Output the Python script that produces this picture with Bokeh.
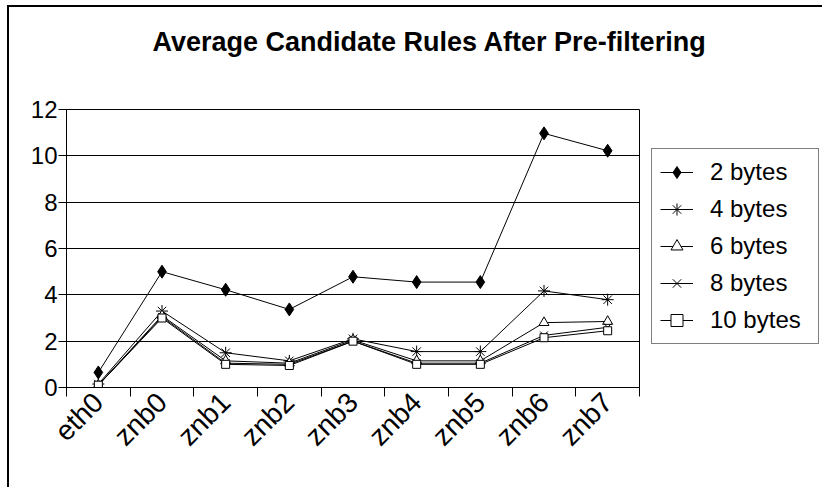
import numpy as np
from bokeh.plotting import figure
from bokeh.models import Range1d, FixedTicker, Legend
from bokeh.embed import file_html
from bokeh.resources import INLINE

# Interfaces on the x axis
categories = ["eth0", "znb0", "znb1", "znb2", "znb3", "znb4", "znb5", "znb6", "znb7"]

# Average number of candidate rules per prefilter width
bytes2 = [0.65, 5.0, 4.22, 3.37, 4.78, 4.55, 4.55, 10.97, 10.22]
bytes4 = [0.15, 3.3, 1.5, 1.15, 2.1, 1.55, 1.55, 4.17, 3.79]
bytes6 = [0.1, 3.1, 1.15, 1.05, 2.05, 1.15, 1.15, 2.8, 2.85]
bytes8 = [0.1, 3.05, 1.05, 1.0, 2.0, 1.05, 1.05, 2.25, 2.6]
bytes10 = [0.1, 3.0, 1.0, 0.95, 2.0, 1.0, 1.0, 2.15, 2.45]

y_ticks = [0, 2, 4, 6, 8, 10, 12]

FONT = "Liberation Sans"

# categories sit in the middle of unit-wide slots, tick marks on the slot edges
xs = np.arange(len(categories)) + 0.5

p = figure(
    frame_width=573, frame_height=278,
    min_border_left=57, min_border_right=183,
    min_border_top=102, min_border_bottom=100,
    x_range=Range1d(0, len(categories)), y_range=Range1d(0, 12),
    output_backend="svg", toolbar_location=None,
    title="Average Candidate Rules After Pre-filtering",
)
p.margin = (5, 0, 0, 7)
p.styles = {"border-left": "2px solid #000", "border-top": "2px solid #000"}

p.title.text_font = FONT
p.title.text_font_size = "27px"
p.title.text_font_style = "bold"
p.title.text_color = "black"
p.title.align = "left"
p.title.vertical_align = "top"
p.title.offset = 86
p.title.standoff = 0
p.title.padding = dict(left=0, right=0, top=0, bottom=51)

p.outline_line_color = "black"
p.outline_line_width = 1
p.background_fill_color = "white"
p.border_fill_color = "white"

# y axis
p.yaxis.ticker = FixedTicker(ticks=y_ticks)
p.yaxis.major_label_text_font = FONT
p.yaxis.major_label_text_font_size = "24px"
p.yaxis.major_label_text_color = "black"
p.yaxis.major_label_standoff = 1
p.yaxis.major_tick_out = 8
p.yaxis.major_tick_in = 0
p.yaxis.minor_tick_line_color = None
p.yaxis.axis_line_color = "black"
p.yaxis.major_tick_line_color = "black"

# x axis: labels at slot centres, tick marks at slot boundaries
p.xaxis.ticker = FixedTicker(ticks=list(xs), minor_ticks=list(range(len(categories) + 1)))
p.xaxis.major_label_overrides = {float(x): c for x, c in zip(xs, categories)}
p.xaxis.major_label_orientation = np.pi / 4
p.xaxis.major_label_text_font = FONT
p.xaxis.major_label_text_font_size = "28px"
p.xaxis.major_label_text_color = "black"
p.xaxis.major_label_standoff = 1
p.xaxis.major_tick_out = 0
p.xaxis.major_tick_in = 0
p.xaxis.minor_tick_out = 9
p.xaxis.minor_tick_in = 0
p.xaxis.minor_tick_line_color = "black"
p.xaxis.axis_line_color = "black"

p.xgrid.grid_line_color = None
p.ygrid.grid_line_color = "black"
p.ygrid.grid_line_width = 1

series = [
    ("2 bytes", bytes2, dict(marker="diamond", size=13, fill_color="black")),
    ("4 bytes", bytes4, dict(marker="asterisk", size=12, fill_color="white")),
    ("6 bytes", bytes6, dict(marker="triangle", size=10, fill_color="white")),
    ("8 bytes", bytes8, dict(marker="x", size=11, fill_color="white")),
    ("10 bytes", bytes10, dict(marker="square", size=8, fill_color="white")),
]

items = []
for label, ys, style in series:
    ln = p.line(xs, ys, line_color="black", line_width=1)
    sc = p.scatter(xs, ys, line_color="black", line_width=1, **style)
    items.append((label, [ln, sc]))

legend = Legend(
    items=items,
    location=(12, 43),
    label_text_font=FONT,
    label_text_font_size="24px",
    label_text_color="black",
    label_height=30,
    label_width=100,
    glyph_height=30,
    glyph_width=33,
    label_standoff=17,
    spacing=7,
    padding=8,
    margin=0,
    border_line_color="black",
    border_line_width=1,
    background_fill_color="white",
    background_fill_alpha=1,
)
p.add_layout(legend, "right")

open("out.html", "w").write(file_html(p, INLINE))
